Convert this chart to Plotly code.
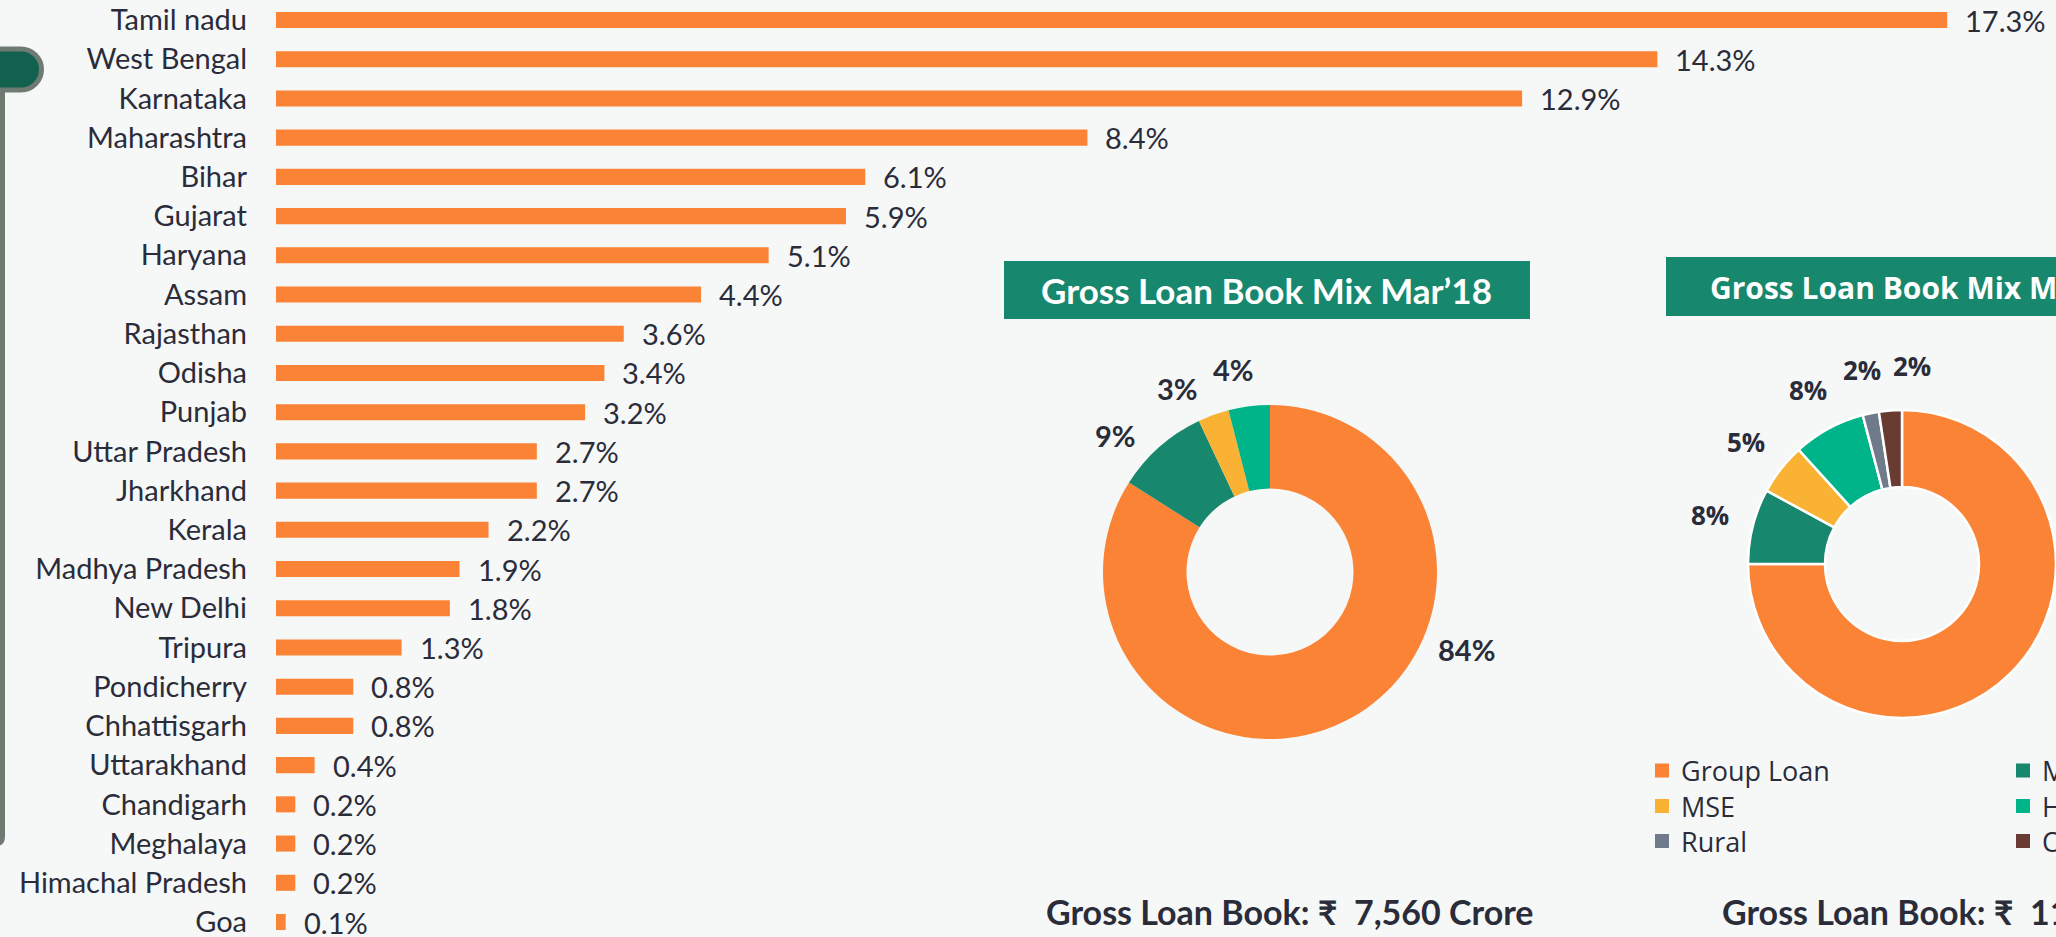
import math
import plotly.graph_objects as go

# ---------------- data ----------------
states = ["Tamil nadu", "West Bengal", "Karnataka", "Maharashtra", "Bihar", "Gujarat",
          "Haryana", "Assam", "Rajasthan", "Odisha", "Punjab", "Uttar Pradesh",
          "Jharkhand", "Kerala", "Madhya Pradesh", "New Delhi", "Tripura", "Pondicherry",
          "Chhattisgarh", "Uttarakhand", "Chandigarh", "Meghalaya", "Himachal Pradesh", "Goa"]
shares = [17.3, 14.3, 12.9, 8.4, 6.1, 5.9, 5.1, 4.4, 3.6, 3.4, 3.2, 2.7,
          2.7, 2.2, 1.9, 1.8, 1.3, 0.8, 0.8, 0.4, 0.2, 0.2, 0.2, 0.1]

mix_labels = ["Group Loan", "Micro Individual Loan", "MSE", "Housing", "Rural", "Others"]
mix_mar18 = [84, 9, 3, 4]
mix_mar19 = [75.0, 7.9, 5.4, 7.6, 1.7, 2.4]

title_18 = "Gross Loan Book Mix Mar\u201918"
title_19 = "Gross Loan Book Mix Mar\u201919"
caption_18 = "Gross Loan Book: \u20b9  7,560 Crore"
caption_19 = "Gross Loan Book: \u20b9  11,051 Crore"

# ---------------- style ----------------
W, H = 2056, 937
BG = "#F6F8F7"
TXT = "#2B2C3A"
ORANGE = "#FB8335"
mix_colors = ["#FB8335", "#17876D", "#F9B233", "#00B48A", "#6F7A8A", "#6A3B33"]
BOX = "#17876D"
TAB = "#12614F"
TABLINE = "#6E7A72"
CAL = "Lato, 'Open Sans', sans-serif"
SEG = "'Open Sans', sans-serif"


def px(x):
    return x / W


def py(y):
    return 1 - y / H


fig = go.Figure()

# ---------------- bar chart ----------------
fig.add_trace(go.Bar(
    x=shares, y=states, orientation="h",
    marker=dict(color=ORANGE, line=dict(width=0)),
    hoverinfo="skip", showlegend=False,
    xaxis="x", yaxis="y",
))

annotations = []
for s, v in zip(states, shares):
    annotations.append(dict(
        x=v, y=s, xref="x", yref="y", text=f"{v}%", showarrow=False,
        xanchor="left", yanchor="middle", xshift=16,
        font=dict(family=CAL, size=29, color=TXT),
    ))

# ---------------- pies ----------------
pie1_cx, pie1_cy, pie1_r = 1270, 572, 167
fig.add_trace(go.Pie(
    labels=mix_labels[:4], values=mix_mar18,
    marker=dict(colors=mix_colors[:4], line=dict(width=0)),
    hole=0.5, sort=False, direction="clockwise", rotation=0,
    textinfo="none", showlegend=False, hoverinfo="skip",
    domain=dict(x=[px(pie1_cx - pie1_r), px(pie1_cx + pie1_r)],
                y=[py(pie1_cy + pie1_r), py(pie1_cy - pie1_r)]),
))

pie2_left, pie2_cy = 1748, 564
pie2_r = (W - pie2_left) / 2
pie2_cx = pie2_left + pie2_r
fig.add_trace(go.Pie(
    labels=mix_labels, values=mix_mar19,
    marker=dict(colors=mix_colors, line=dict(width=2.5, color="#FFFFFF")),
    hole=0.5, sort=False, direction="clockwise", rotation=0,
    textinfo="none", showlegend=False, hoverinfo="skip",
    domain=dict(x=[px(pie2_left), 1.0],
                y=[py(pie2_cy + pie2_r), py(pie2_cy - pie2_r)]),
))


def pie_label_positions(values, cx, cy, r_lab, min_gap_px=50, shift_deg=0.0):
    """Outside label positions at each slice's mid-angle (clockwise from 12 o'clock),
    spreading crowded neighbours apart."""
    total = float(sum(values))
    cum = 0.0
    angles = []
    for v in values:
        angles.append((cum + v / 2) / total * 360.0 + shift_deg)
        cum += v
    dmin = math.degrees(min_gap_px / r_lab)
    for i in range(2, len(angles)):
        if angles[i] - angles[i - 1] < dmin:
            angles[i] = angles[i - 1] + dmin
    pos = []
    for a in angles:
        t = math.radians(a)
        pos.append((cx + r_lab * math.sin(t), cy - r_lab * math.cos(t)))
    return pos


def pct_text(values):
    total = float(sum(values))
    return [f"{round(100 * v / total)}%" for v in values]


# pie 1 small-slice labels
for (x, y), t in list(zip(pie_label_positions(mix_mar18, pie1_cx, pie1_cy, pie1_r + 39,
                                              min_gap_px=60, shift_deg=-7),
                          pct_text(mix_mar18)))[1:]:
    annotations.append(dict(x=px(x), y=py(y), xref="paper", yref="paper", text=f"<b>{t}</b>",
                            showarrow=False, xanchor="center", yanchor="middle",
                            font=dict(family=CAL, size=29, color=TXT)))
# pie 1 big slice label
annotations.append(dict(
    x=px(1466), y=py(649), xref="paper", yref="paper",
    text=f"<b>{pct_text(mix_mar18)[0]}</b>", showarrow=False,
    xanchor="center", yanchor="middle",
    font=dict(family=CAL, size=29, color=TXT),
))
# pie 2 labels (big slice label falls outside the visible area)
for (x, y), t in list(zip(pie_label_positions(mix_mar19, pie2_cx, pie2_cy, pie2_r + 44),
                          pct_text(mix_mar19)))[1:]:
    annotations.append(dict(x=px(x), y=py(y), xref="paper", yref="paper", text=f"<b>{t}</b>",
                            showarrow=False, xanchor="center", yanchor="middle",
                            font=dict(family=SEG, size=26, color=TXT)))

shapes = []
# title boxes
shapes.append(dict(type="rect", xref="paper", yref="paper", x0=px(1004), x1=px(1530),
                   y0=py(319), y1=py(261), fillcolor=BOX, line=dict(width=0), layer="below"))
shapes.append(dict(type="rect", xref="paper", yref="paper", x0=px(1666), x1=px(2194),
                   y0=py(316), y1=py(257), fillcolor=BOX, line=dict(width=0), layer="below"))
annotations.append(dict(x=px(1266), y=py(290), xref="paper", yref="paper", text=f"<b>{title_18}</b>",
                        showarrow=False, xanchor="center", yanchor="middle",
                        font=dict(family=CAL, size=35, color="#FFFFFF")))
annotations.append(dict(x=px(1708), y=py(287), xref="paper", yref="paper", text=f"<b>{title_19}</b>",
                        showarrow=False, xanchor="left", yanchor="middle",
                        font=dict(family=SEG, size=30, color="#FFFFFF")))

# captions
annotations.append(dict(x=px(1044), y=py(911), xref="paper", yref="paper", text=f"<b>{caption_18}</b>",
                        showarrow=False, xanchor="left", yanchor="middle",
                        font=dict(family=CAL, size=34, color=TXT)))
annotations.append(dict(x=px(1720), y=py(911), xref="paper", yref="paper", text=f"<b>{caption_19}</b>",
                        showarrow=False, xanchor="left", yanchor="middle",
                        font=dict(family=CAL, size=34, color=TXT)))

# legend of the second pie
row_y = [770.5, 806, 841]
for i, (lab, col) in enumerate(zip(mix_labels, mix_colors)):
    r, c = i // 2, i % 2
    x0 = 1655 + c * 361
    yc = row_y[r]
    shapes.append(dict(type="rect", xref="paper", yref="paper", x0=px(x0), x1=px(x0 + 14),
                       y0=py(yc + 7), y1=py(yc - 7), fillcolor=col, line=dict(width=0)))
    annotations.append(dict(x=px(x0 + 24), y=py(yc), xref="paper", yref="paper", text=lab,
                            showarrow=False, xanchor="left", yanchor="middle",
                            font=dict(family=SEG, size=27, color=TXT)))


# ---------------- decorative tab on the left ----------------
def path_px(cmds):
    out = []
    for c in cmds:
        if isinstance(c, str):
            out.append(c)
        else:
            out.append(f"{px(c[0]):.6f},{py(c[1]):.6f}")
    return " ".join(out)


line_path = path_px(["M", (-6, 88), "L", (5, 88), "L", (5, 836),
                     "Q", (5, 846), (-3, 846), "L", (-6, 846), "Z"])
shapes.append(dict(type="path", xref="paper", yref="paper", path=line_path,
                   fillcolor=TABLINE, line=dict(width=0)))
rad, cxp, cyp = 20.5, 21, 69.5
k = 0.5523 * rad
tab_path = path_px([
    "M", (-10, cyp - rad), "L", (cxp, cyp - rad),
    "C", (cxp + k, cyp - rad), (cxp + rad, cyp - k), (cxp + rad, cyp),
    "C", (cxp + rad, cyp + k), (cxp + k, cyp + rad), (cxp, cyp + rad),
    "L", (-10, cyp + rad), "Z"])
shapes.append(dict(type="path", xref="paper", yref="paper", path=tab_path,
                   fillcolor=TAB, line=dict(width=5, color=TABLINE)))

# ---------------- layout ----------------
y_top_px, y_bot_px = 20, 922
row = (y_bot_px - y_top_px) / (len(states) - 1)
fig.update_layout(
    width=W, height=H,
    margin=dict(l=0, r=0, t=0, b=0),
    paper_bgcolor=BG, plot_bgcolor="rgba(0,0,0,0)",
    bargap=0.59,
    xaxis=dict(domain=[px(276), 1.0], range=[0, (W - 276) / 96.6], visible=False,
               fixedrange=True),
    yaxis=dict(domain=[0, 1], categoryorder="array", categoryarray=states,
               range=[len(states) - 1 + (H - y_bot_px) / row, -y_top_px / row],
               showgrid=False, zeroline=False, showline=False, ticks="",
               tickfont=dict(family=CAL, size=29, color=TXT),
               ticklabelstandoff=28, automargin=False, fixedrange=True),
    shapes=shapes,
    annotations=annotations,
)

fig.write_html(
    "out.html",
    config={"displayModeBar": False},
    post_script="document.body.style.margin='0';document.body.style.overflow='hidden';",
)
